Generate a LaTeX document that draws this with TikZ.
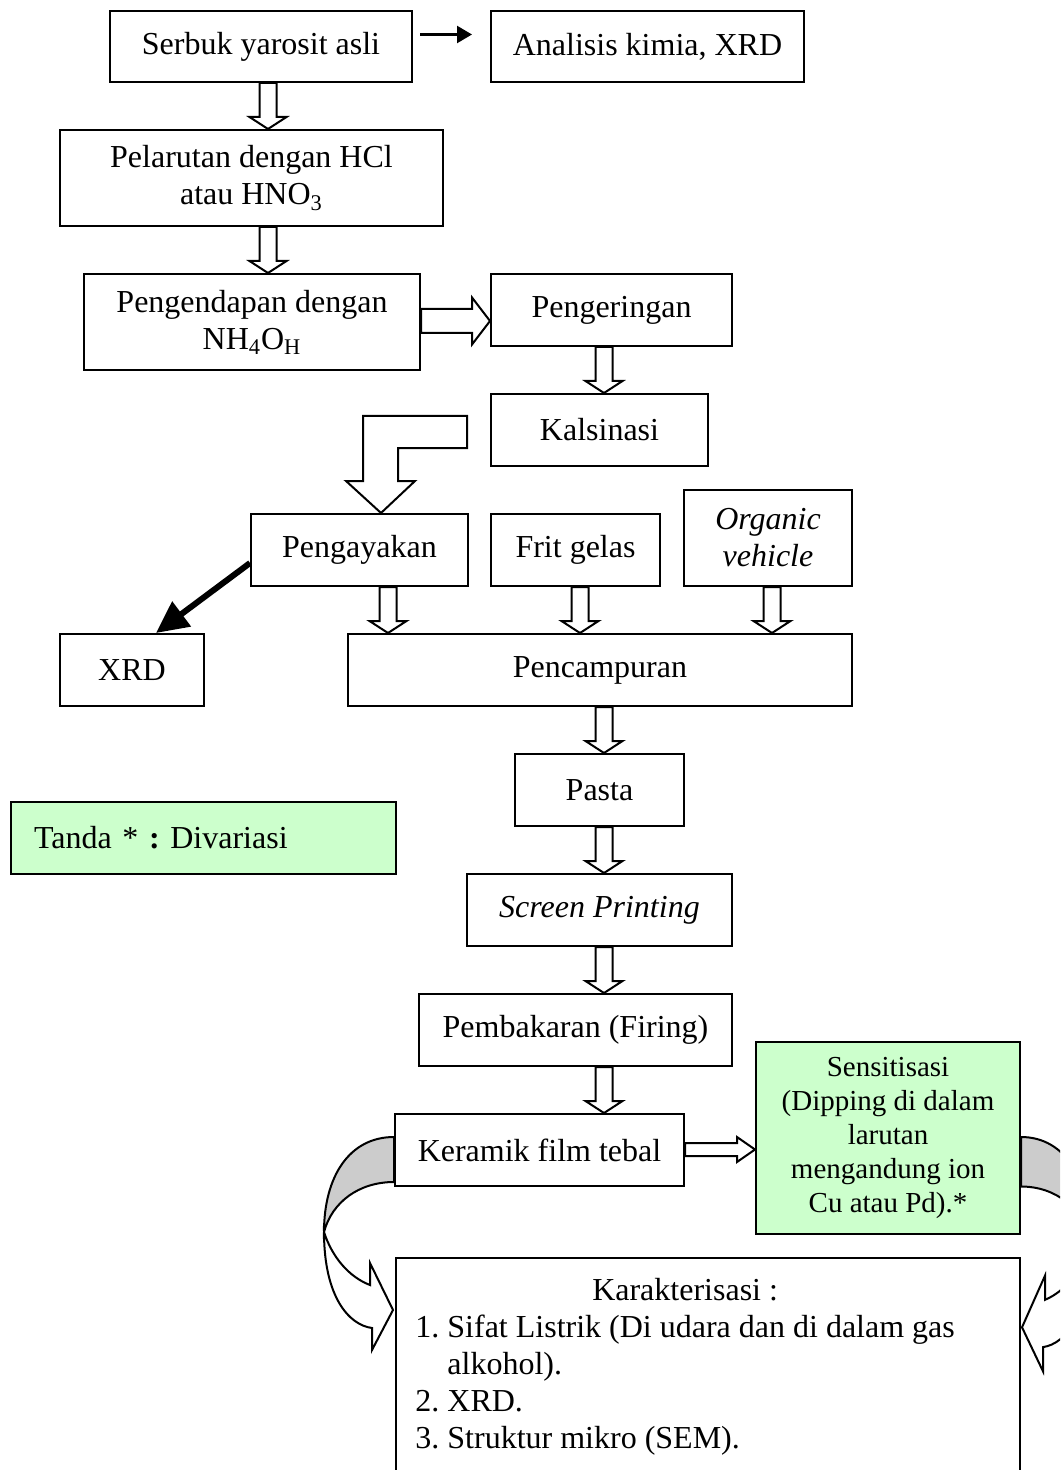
\documentclass[tikz,border=0pt]{standalone}
\usepackage{fontspec}
\setmainfont{Liberation Serif}
\usetikzlibrary{arrows.meta,calc}
\frenchspacing

\definecolor{mintgreen}{HTML}{CCFFCC}
\newcommand{\pu}{0.5pt}
\newcommand{\bodyfont}{\fontsize{16}{18.5}\selectfont}
\newcommand{\smallbody}{\fontsize{14.5}{17}\selectfont}

% hollow block arrow, downwards, at x (px)
\newcommand{\downarr}[3]{%
  \filldraw[blockarr] let \p1=(#1.south), \p2=(#2.north), \p3=(#3,0) in
    (\x3-4.25pt,\y1) -- (\x3-4.25pt,\y2+6pt) -- (\x3-9.25pt,\y2+6pt) -- (\x3,\y2)
    -- (\x3+9.25pt,\y2+6pt) -- (\x3+4.25pt,\y2+6pt) -- (\x3+4.25pt,\y1) -- cycle;}
% hollow block arrow, to the right, at y (px), shaft and head half widths (px)
\newcommand{\rightarr}[5]{%
  \filldraw[blockarr] let \p1=(#1.east), \p2=(#2.west), \p3=(0,#3) in
    (\x1,\y3+#4*\pu) -- (\x2-9pt,\y3+#4*\pu) -- (\x2-9pt,\y3+#5*\pu) -- (\x2,\y3)
    -- (\x2-9pt,\y3-#5*\pu) -- (\x2-9pt,\y3-#4*\pu) -- (\x1,\y3-#4*\pu) -- cycle;}
% curved arrow, back face grey
\newcommand{\curvedarr}{%
  \filldraw[blockarr, fill=gray!40] (0,0) .. controls (-45,0) and (-70,40) .. (-70,95)
    .. controls (-62,65) and (-35,45) .. (0,45) -- cycle;
  \filldraw[blockarr] (-70,95) .. controls (-70,160) and (-45,188) .. (-22,191)
    -- (-22,213) -- (-1,173) -- (-24,126) -- (-24,148)
    .. controls (-45,140) and (-62,120) .. (-70,95) -- cycle;}

\begin{document}
\begin{tikzpicture}[x=0.5pt,y=-0.5pt,
    box/.style={draw, line width=1pt, align=center, inner sep=2pt, anchor=north west, font=\bodyfont},
    boxsize/.style 2 args={minimum width=#1*\pu, minimum height=#2*\pu},
    blockarr/.style={draw, fill=white, line width=1pt, line join=miter},
  ]
  \useasboundingbox (0,0) rectangle (1060,1470);
  \clip (0,0) rectangle (1060,1470);

  % boxes
  \node[box, boxsize={302}{71}] (serbuk) at (109,10) {Serbuk yarosit asli};
  \node[box, boxsize={313}{71}] (analisis) at (490,10) {Analisis kimia, XRD};
  \node[box, boxsize={383}{96}] (pelarutan) at (59,129) {Pelarutan dengan HCl\\atau HNO\textsubscript{3}};
  \node[box, boxsize={336}{96}] (pengendapan) at (83,273) {Pengendapan dengan\\NH\textsubscript{4}O\textsubscript{H}};
  \node[box, boxsize={241}{72}] (pengeringan) at (490,273) {Pengeringan};
  \node[box, boxsize={217}{72}] (kalsinasi) at (490,393) {Kalsinasi};
  \node[box, boxsize={217}{72}] (pengayakan) at (250,513) {Pengayakan};
  \node[box, boxsize={169}{72}] (frit) at (490,513) {Frit gelas};
  \node[box, boxsize={168}{96}, font=\bodyfont\itshape] (organic) at (683,489) {Organic\\vehicle};
  \node[box, boxsize={144}{72}] (xrd) at (59,633) {XRD};
  \node[box, boxsize={504}{72}] (pencampuran) at (347,633) {Pencampuran};
  \node[box, boxsize={169}{72}] (pasta) at (514,753) {Pasta};
  \node[box, boxsize={265}{72}, font=\bodyfont\itshape] (screen) at (466,873) {Screen Printing};
  \node[box, boxsize={313}{72}] (pembakaran) at (418,993) {Pembakaran (Firing)};
  \node[box, boxsize={289}{72}] (keramik) at (394,1113) {Keramik film tebal};
  \node[box, boxsize={264}{192}, fill=mintgreen, font=\smallbody] (sensitisasi) at (755,1041)
    {Sensitisasi\\(Dipping di dalam\\larutan\\mengandung ion\\Cu atau Pd).*};
  \node[box, boxsize={624}{240}] (karak) at (395,1257) {};
  \node[anchor=north west, inner sep=0pt, font=\bodyfont] (karaktext) at (415,1274)
    {\begin{tabular}{@{}l@{}}
      \multicolumn{1}{@{}c@{}}{Karakterisasi :}\\
      1. Sifat Listrik (Di udara dan di dalam gas\\
      \hspace*{16pt}alkohol).\\
      2. XRD.\\
      3. Struktur mikro (SEM).
    \end{tabular}};
  \node[box, minimum height=72*\pu, text width=169.5pt, inner xsep=11.5pt, align=left, fill=mintgreen]
    (tanda) at (10,801) {Tanda * \textbf{:} Divariasi};

  % block arrows
  \downarr{serbuk}{pelarutan}{268}
  \downarr{pelarutan}{pengendapan}{268}
  \rightarr{pengendapan}{pengeringan}{321}{12}{23.5}
  \downarr{pengeringan}{kalsinasi}{604}
  \filldraw[blockarr] (363,416) -- (467,416) -- (467,448) -- (398,448) -- (398,481)
    -- (415,481) -- (381,513) -- (346,481) -- (363,481) -- cycle;
  \downarr{pengayakan}{pencampuran}{388}
  \downarr{frit}{pencampuran}{580}
  \downarr{organic}{pencampuran}{772}
  \downarr{pencampuran}{pasta}{604}
  \downarr{pasta}{screen}{604}
  \downarr{screen}{pembakaran}{604}
  \downarr{pembakaran}{keramik}{604}
  \rightarr{keramik}{sensitisasi}{1149.5}{6.5}{12.5}

  % plain arrows
  \draw[line width=1.2pt, -{Triangle[length=7.5pt,width=8.5pt]}]
    ([xshift=3.5pt,yshift=6pt]serbuk.east) -- ([xshift=-9pt,yshift=6pt]analisis.west);
  \draw[line width=3pt, -{Triangle[length=16pt,width=15pt]}]
    ([yshift=-6.5pt]pengayakan.west) -- ([xshift=12pt]xrd.north);

  % curved arrows
  \begin{scope}[shift={([yshift=-12pt]keramik.north west)}]
    \curvedarr
  \end{scope}
  \begin{scope}[shift={([yshift=-48pt]sensitisasi.north east)}, xscale=-1, yscale=1.1]
    \curvedarr
  \end{scope}
\end{tikzpicture}
\end{document}
